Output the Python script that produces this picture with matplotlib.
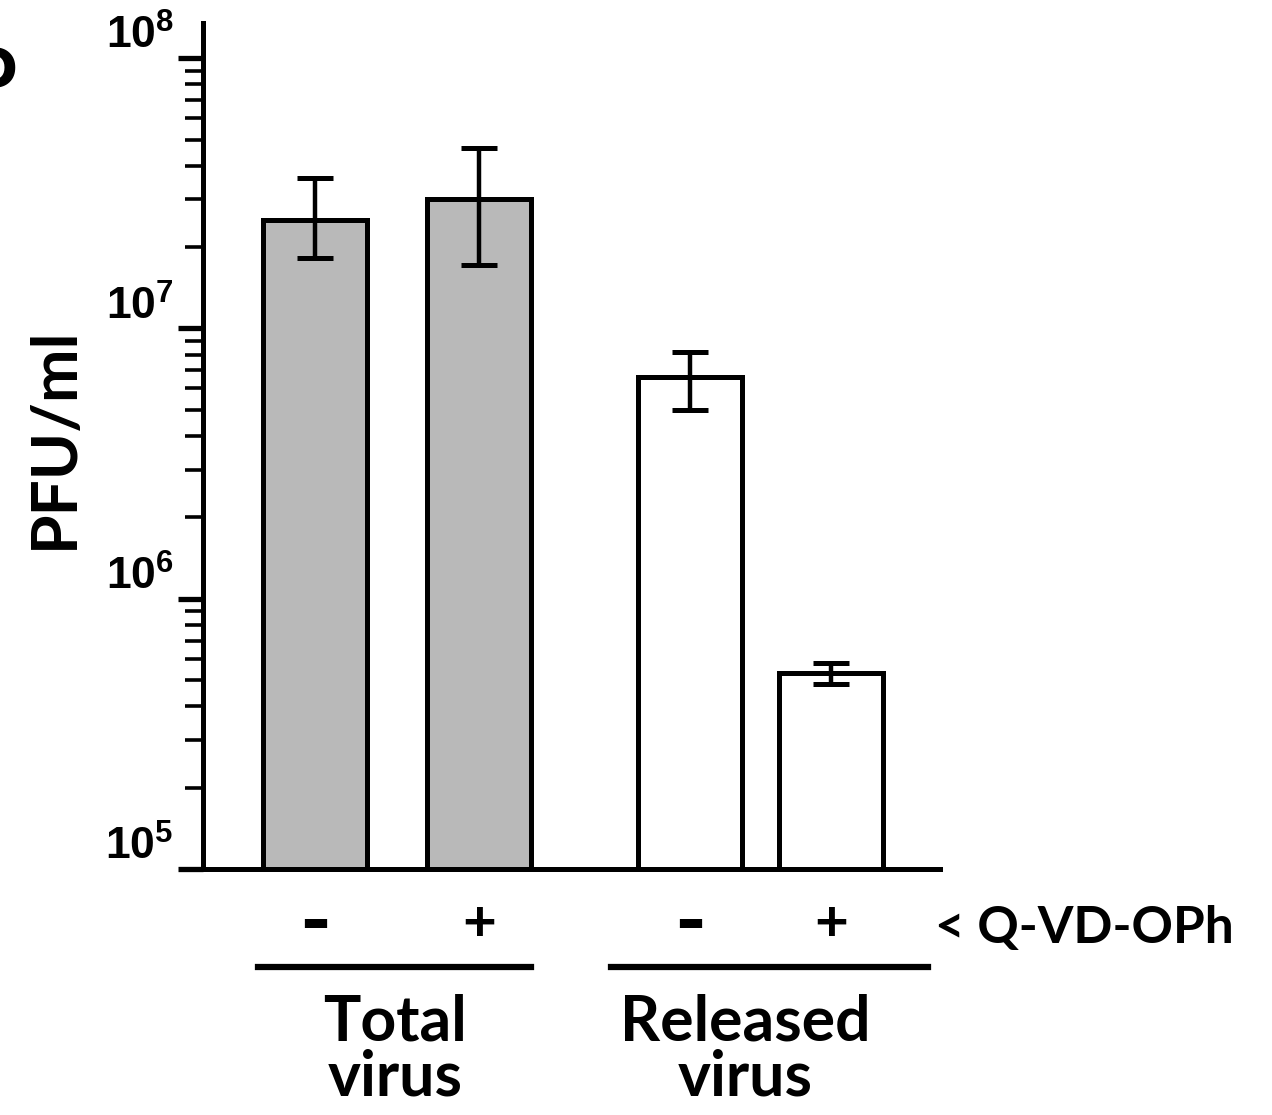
import numpy as np
import matplotlib
matplotlib.use("Agg")
import matplotlib.pyplot as plt
from matplotlib.ticker import LogLocator, NullFormatter, FixedLocator

plt.rcParams['mathtext.fontset'] = 'custom'
plt.rcParams['mathtext.rm'] = 'Liberation Sans:bold'
plt.rcParams['mathtext.bf'] = 'Liberation Sans:bold'
plt.rcParams['mathtext.it'] = 'Liberation Sans:bold'

# data (PFU/ml)
conditions = ['-', '+', '-', '+']
groups = ['Total\nvirus', 'Released\nvirus']
pfu = [2.52e7, 3.01e7, 6.6e6, 5.31e5]
err_low = [1.82e7, 1.72e7, 4.99e6, 4.83e5]
err_high = [3.6e7, 4.65e7, 8.2e6, 5.78e5]
fills = ['#b9b9b9', '#b9b9b9', 'white', 'white']

W, H = 1272, 1115
fig = plt.figure(figsize=(W / 100, H / 100), dpi=100)
ax = fig.add_axes([203 / W, 1 - 869 / H, (940 - 203) / W, (869 - 23) / H])

# bar centres in pixel-ish units along x
xpos = np.array([315, 479, 690, 831])
pfu = np.array(pfu)
base = 1e5
yerr = [pfu - np.array(err_low), np.array(err_high) - pfu]

ax.bar(xpos, pfu - base, width=104, bottom=base, color=fills, edgecolor='black',
       linewidth=3.6, zorder=2)
ax.errorbar(xpos, pfu, yerr=yerr, fmt='none', ecolor='black', elinewidth=3.2,
            capsize=13, capthick=3.6, zorder=3)

ax.set_yscale('log')
ax.set_ylim(base, 10 ** 8.13)
ax.set_xlim(203, 940)

for s in ['top', 'right']:
    ax.spines[s].set_visible(False)
for s in ['left', 'bottom']:
    ax.spines[s].set_linewidth(3.6)

ax.set_xticks([])
ax.yaxis.set_major_locator(FixedLocator([1e5, 1e6, 1e7, 1e8]))
ax.yaxis.set_minor_locator(LogLocator(base=10, subs=np.arange(2, 10), numticks=20))
ax.yaxis.set_minor_formatter(NullFormatter())
ax.set_yticklabels([r'$\mathbf{10^{5}}$', r'$\mathbf{10^{6}}$',
                    r'$\mathbf{10^{7}}$', r'$\mathbf{10^{8}}$'])
ax.tick_params(axis='y', which='major', length=18, width=3.8, labelsize=32, pad=3)
ax.tick_params(axis='y', which='minor', length=13, width=2.6)
for lab in ax.get_yticklabels():
    lab.set_verticalalignment('bottom')

ax.set_ylabel('PFU/ml', fontsize=46, fontweight='bold', family='Lato')
ax.yaxis.set_label_coords(-0.163, 0.51)

# treatment signs under the bars
for x, c in zip(xpos, conditions):
    size = 62 if c == '-' else 42
    fig.text(x / W, 1 - 925 / H, c, ha='center', va='center', fontsize=size,
             fontweight='bold', family='Lato')
fig.text(935 / W, 1 - 928 / H, '< Q-VD-OPh', ha='left', va='center', fontsize=37,
         fontweight='bold', family='Lato')

# group bars and names
fig.add_artist(plt.Line2D([258 / W, 531 / W], [1 - 967 / H] * 2, color='black', lw=4.5))
fig.add_artist(plt.Line2D([611 / W, 928 / W], [1 - 967 / H] * 2, color='black', lw=4.5))
fig.text(395 / W, 1 - 1050 / H, groups[0], ha='center', va='center', fontsize=45,
         fontweight='bold', family='Lato', linespacing=0.92)
fig.text(745 / W, 1 - 1050 / H, groups[1], ha='center', va='center', fontsize=45,
         fontweight='bold', family='Lato', linespacing=0.92)

# clipped panel letter at the left edge
fig.text(-0.022, 1 - 72 / H, 'D', ha='left', va='center', fontsize=40, fontweight='bold')

fig.savefig('out.png', dpi=100)
